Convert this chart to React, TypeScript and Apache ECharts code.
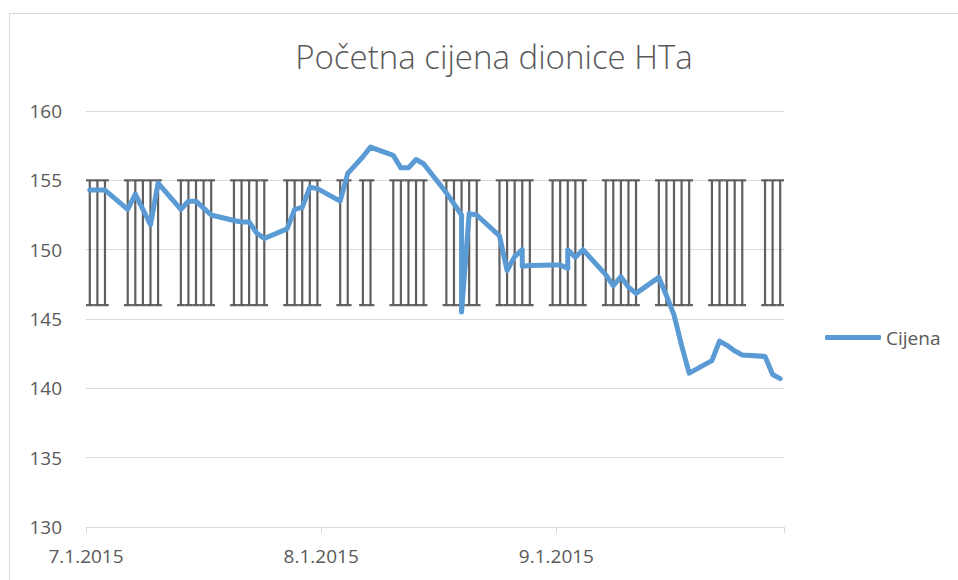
import React, { useEffect, useRef } from "react";
import * as echarts from "echarts";

// ---- data ----
const titleText = "Početna cijena dionice HTa";
const seriesName = "Cijena";

const axisStartDate = "2015-07-01";
const xTickDates = ["2015-07-01", "2015-08-01", "2015-09-01", "2015-10-01"];
const xLabelDates = ["2015-07-01", "2015-08-01", "2015-09-01"];
const xLabelTexts = ["7.1.2015", "8.1.2015", "9.1.2015"];

const yMin = 130;
const yMax = 160;
const yStep = 5;

// opening price per trading day (some days carry two entries)
const priceDates = [
  "2015-07-01", "2015-07-02", "2015-07-03", "2015-07-06", "2015-07-07", "2015-07-08", "2015-07-09", "2015-07-10",
  "2015-07-13", "2015-07-14", "2015-07-15", "2015-07-16", "2015-07-17",
  "2015-07-20", "2015-07-21", "2015-07-22", "2015-07-23", "2015-07-24",
  "2015-07-27", "2015-07-28", "2015-07-29", "2015-07-30", "2015-07-31",
  "2015-08-03", "2015-08-04", "2015-08-06", "2015-08-07",
  "2015-08-10", "2015-08-11", "2015-08-12", "2015-08-13", "2015-08-14",
  "2015-08-17", "2015-08-18", "2015-08-19", "2015-08-19", "2015-08-20", "2015-08-21",
  "2015-08-24", "2015-08-25", "2015-08-26", "2015-08-27", "2015-08-27", "2015-08-28",
  "2015-08-31", "2015-09-01", "2015-09-02", "2015-09-02", "2015-09-03", "2015-09-04",
  "2015-09-07", "2015-09-08", "2015-09-09", "2015-09-10", "2015-09-11",
  "2015-09-14", "2015-09-15", "2015-09-16", "2015-09-17", "2015-09-18",
  "2015-09-21", "2015-09-22", "2015-09-23", "2015-09-24", "2015-09-25",
  "2015-09-28", "2015-09-29", "2015-09-30",
];
const priceValues = [
  154.3, 154.3, 154.3, 152.9, 154.0, 152.9, 151.8, 154.8,
  152.9, 153.5, 153.5, 153.0, 152.5,
  152.1, 152.0, 152.0, 151.2, 150.8,
  151.5, 152.9, 153.05, 154.5, 154.4,
  153.5, 155.5, 156.7, 157.4,
  156.8, 155.9, 155.9, 156.5, 156.2,
  154.1, 153.3, 152.5, 145.5, 152.6, 152.5,
  151.0, 148.5, 149.5, 150.0, 148.8, 148.85,
  148.9, 148.9, 148.65, 150.0, 149.45, 150.0,
  148.2, 147.4, 148.05, 147.3, 146.85,
  148.0, 146.7, 145.3, 143.1, 141.1,
  142.0, 143.4, 143.1, 142.7, 142.4,
  142.3, 141.0, 140.7,
];

// trading days drawn as range bars
const rangeDates = [
  "2015-07-01", "2015-07-02", "2015-07-03",
  "2015-07-06", "2015-07-07", "2015-07-08", "2015-07-09", "2015-07-10",
  "2015-07-13", "2015-07-14", "2015-07-15", "2015-07-16", "2015-07-17",
  "2015-07-20", "2015-07-21", "2015-07-22", "2015-07-23", "2015-07-24",
  "2015-07-27", "2015-07-28", "2015-07-29", "2015-07-30", "2015-07-31",
  "2015-08-03", "2015-08-04", "2015-08-06", "2015-08-07",
  "2015-08-10", "2015-08-11", "2015-08-12", "2015-08-13", "2015-08-14",
  "2015-08-17", "2015-08-18", "2015-08-19", "2015-08-20", "2015-08-21",
  "2015-08-24", "2015-08-25", "2015-08-26", "2015-08-27", "2015-08-28",
  "2015-08-31", "2015-09-01", "2015-09-02", "2015-09-03", "2015-09-04",
  "2015-09-07", "2015-09-08", "2015-09-09", "2015-09-10", "2015-09-11",
  "2015-09-14", "2015-09-15", "2015-09-16", "2015-09-17", "2015-09-18",
  "2015-09-21", "2015-09-22", "2015-09-23", "2015-09-24", "2015-09-25",
  "2015-09-28", "2015-09-29", "2015-09-30",
];
const rangeLow = [146];
const rangeHigh = [155];

// ---- helpers ----
const DAY = 86400000;
const toUTC = (s: string) => {
  const [y, m, d] = s.split("-").map(Number);
  return Date.UTC(y, m - 1, d);
};
// a date occupies one slot; its centre is the day's position
const dayPos = (s: string) => (toUTC(s) - toUTC(axisStartDate)) / DAY;
const boundaryPos = (s: string) => dayPos(s) - 0.5;

const FONT = "'Open Sans', 'Noto Sans', sans-serif";
const TEXT_COLOR = "#595959";
const GRID_COLOR = "#d9d9d9";

export default function App() {
  const ref = useRef<HTMLDivElement>(null);

  useEffect(() => {
    if (!ref.current) return;
    const chart = echarts.init(ref.current, undefined, { renderer: "svg" });

    const tickVals = xTickDates.map(boundaryPos);
    const labelVals = xLabelDates.map(boundaryPos);

    const option: any = {
      animation: false,
      backgroundColor: "#ffffff",
      title: {
        text: titleText,
        left: 489,
        top: 35,
        textAlign: "center",
        textStyle: {
          fontFamily: FONT,
          fontSize: 33,
          fontWeight: 300,
          color: TEXT_COLOR,
        },
      },
      legend: {
        data: [seriesName],
        left: 820,
        top: 323,
        icon: "roundRect",
        itemWidth: 56,
        itemHeight: 5,
        textStyle: { fontFamily: FONT, fontSize: 19, color: TEXT_COLOR },
      },
      graphic: [
        {
          type: "rect",
          silent: true,
          shape: { x: 9.5, y: 13.5, width: 1000, height: 1000 },
          style: { fill: "none", stroke: GRID_COLOR, lineWidth: 1 },
        },
      ],
      grid: { left: 86, right: 174, top: 111, bottom: 53 },
      xAxis: {
        type: "value",
        min: tickVals[0],
        max: tickVals[tickVals.length - 1],
        axisLine: { show: true, lineStyle: { color: GRID_COLOR, width: 1 } },
        axisTick: {
          show: true,
          customValues: tickVals,
          length: 6,
          lineStyle: { color: GRID_COLOR, width: 1 },
        },
        splitLine: { show: false },
        axisLabel: {
          customValues: labelVals,
          margin: 19,
          fontFamily: FONT,
          fontSize: 19,
          color: TEXT_COLOR,
          formatter: (v: number) => {
            const i = labelVals.findIndex((t) => Math.abs(t - v) < 1e-6);
            return i >= 0 ? xLabelTexts[i] : "";
          },
        },
      },
      yAxis: {
        type: "value",
        min: yMin,
        max: yMax,
        interval: yStep,
        axisLine: { show: false },
        axisTick: { show: false },
        splitLine: { lineStyle: { color: GRID_COLOR, width: 1 } },
        axisLabel: {
          margin: 24,
          fontFamily: FONT,
          fontSize: 19,
          color: TEXT_COLOR,
        },
      },
      series: [
        {
          type: "custom",
          name: "range",
          silent: true,
          z: 1,
          encode: { x: 0, y: [1, 2] },
          data: rangeDates.map((d) => [dayPos(d), rangeLow[0], rangeHigh[0]]),
          renderItem: (params: any, api: any) => {
            const x = api.value(0);
            const top = api.coord([x, api.value(2)]);
            const bot = api.coord([x, api.value(1)]);
            const half = api.size([1, 0])[0] / 2;
            const style = { stroke: "#5f5f5f", lineWidth: 2.2, fill: null };
            return {
              type: "group",
              children: [
                { type: "line", shape: { x1: top[0], y1: top[1], x2: bot[0], y2: bot[1] }, style },
                { type: "line", shape: { x1: top[0] - half, y1: top[1], x2: top[0] + half, y2: top[1] }, style },
                { type: "line", shape: { x1: bot[0] - half, y1: bot[1], x2: bot[0] + half, y2: bot[1] }, style },
              ],
            };
          },
        },
        {
          type: "line",
          name: seriesName,
          z: 3,
          symbol: "none",
          data: priceDates.map((d, i) => [dayPos(d), priceValues[i]]),
          lineStyle: { color: "#5b9bd5", width: 5, cap: "round", join: "round" },
          itemStyle: { color: "#5b9bd5" },
        },
      ],
    };

    chart.setOption(option);
    return () => chart.dispose();
  }, []);

  return (
    <div
      ref={ref}
      style={{ position: "fixed", left: 0, top: 0, width: 958, height: 580, background: "#fff" }}
    />
  );
}
